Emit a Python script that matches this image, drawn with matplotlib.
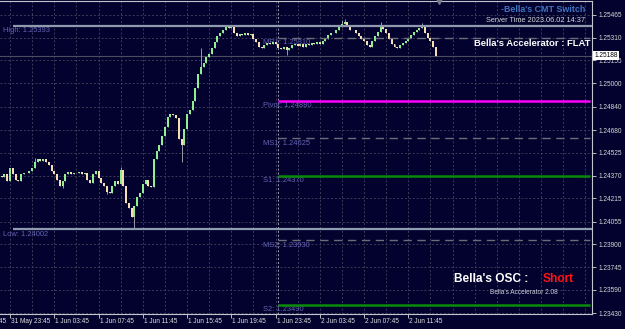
import numpy as np
import matplotlib
matplotlib.use("Agg")
import matplotlib.pyplot as plt
from matplotlib.transforms import blended_transform_factory, offset_copy

plt.rcParams["font.family"] = ["Liberation Sans", "DejaVu Sans"]

# -------- data (M15 bars, bar 0 = 31 May 23:45) --------
first_bar = -4
first_open = 1.24370
closes = [
    1.24370, 1.24360, 1.24380, 1.24330, 1.24420, 1.24380, 1.24340, 1.24330, 1.24380, 1.24390,
    1.24385, 1.24400, 1.24420, 1.24465, 1.24480, 1.24470, 1.24485, 1.24460, 1.24440, 1.24400,
    1.24380, 1.24340, 1.24300, 1.24330, 1.24380, 1.24395, 1.24380, 1.24390, 1.24385, 1.24395,
    1.24380, 1.24390, 1.24340, 1.24320, 1.24380, 1.24400, 1.24350, 1.24320, 1.24300, 1.24260,
    1.24250, 1.24300, 1.24330, 1.24310, 1.24410, 1.24300, 1.24180, 1.24150, 1.24090, 1.24160,
    1.24220, 1.24250, 1.24310, 1.24340, 1.24300, 1.24290, 1.24480, 1.24540, 1.24580, 1.24640,
    1.24700, 1.24770, 1.24790, 1.24780, 1.24760, 1.24620, 1.24580, 1.24690, 1.24790, 1.24820,
    1.24880, 1.24970, 1.25060, 1.25110, 1.25140, 1.25180, 1.25200, 1.25240, 1.25280, 1.25320,
    1.25340, 1.25365, 1.25385, 1.25375, 1.25380, 1.25340, 1.25320, 1.25335, 1.25330, 1.25340,
    1.25330, 1.25335, 1.25300, 1.25280, 1.25250, 1.25240, 1.25260, 1.25275, 1.25265, 1.25280,
    1.25265, 1.25240, 1.25230, 1.25245, 1.25225, 1.25240, 1.25260, 1.25270, 1.25255, 1.25265,
    1.25250, 1.25270, 1.25260, 1.25275, 1.25265, 1.25280, 1.25270, 1.25290, 1.25300, 1.25330,
    1.25345, 1.25340, 1.25365, 1.25385, 1.25405, 1.25415, 1.25390, 1.25360, 1.25360, 1.25340,
    1.25325, 1.25300, 1.25290, 1.25260, 1.25250, 1.25290, 1.25320, 1.25350, 1.25390, 1.25370,
    1.25340, 1.25300, 1.25270, 1.25250, 1.25240, 1.25260, 1.25275, 1.25290, 1.25310, 1.25330,
    1.25350, 1.25365, 1.25375, 1.25385, 1.25340, 1.25310, 1.25290, 1.25250, 1.25188,
]
wick_highs = {9: 1.24490, 40: 1.24425, 69: 1.25240, 120: 1.25430, 121: 1.25435,
              134: 1.25420, 149: 1.25410}
wick_lows = {19: 1.24284, 35: 1.24245, 45: 1.24002, 62: 1.24460, 100: 1.25195}

price_ticks = [1.25465, 1.25310, 1.25155, 1.25000, 1.24840, 1.24680, 1.24525,
               1.24370, 1.24215, 1.24055, 1.23900, 1.23745, 1.23590, 1.23430]
time_bars = [-16, 0, 16, 32, 48, 64, 80, 96, 112, 128, 144]
time_labels = ["31 May 19:45", "31 May 23:45", "1 Jun 03:45", "1 Jun 07:45",
               "1 Jun 11:45", "1 Jun 15:45", "1 Jun 19:45", "1 Jun 23:45",
               "2 Jun 03:45", "2 Jun 07:45", "2 Jun 11:45"]

day_high = 1.25393
day_low = 1.24002
level_names = ["MR1", "Pivot", "MS1", "S1", "MS2", "S2"]
level_values = [1.25310, 1.24880, 1.24625, 1.24370, 1.23930, 1.23490]
last_price = 1.25188
server_time = "2023.06.02 14:37"

# -------- style --------
W, H = 625, 329
BG = "#03022e"
BULL, BEAR, WICK = "#90ee90", "#f5deb3", "#9a9aa6"
GRID = "#3c3c58"
LABEL = "#6464b4"
level_style = {
    "MR1": ("#6c6c78", 1.0, (0, (6, 4))),
    "Pivot": ("#ff00ff", 1.8, "-"),
    "MS1": ("#6c6c78", 1.0, (0, (6, 4))),
    "S1": ("#0a8a0a", 1.8, "-"),
    "MS2": ("#6c6c78", 1.0, (0, (6, 4))),
    "S2": ("#0a8a0a", 1.8, "-"),
}
SESSION_START = 97  # 2 Jun 00:00
DAY_START = 1       # 1 Jun 00:00

fig = plt.figure(figsize=(W / 100, H / 100), dpi=100, facecolor=BG)
ax = fig.add_axes([0, 1 - 314 / H, 592 / W, 313 / H], facecolor=BG)
ax.set_xlim(-3.62, 210.4)
ax.set_ylim(1.234252, 1.255605)

# grid
for gx in np.arange(0, 211, 8):
    ax.axvline(gx, color=GRID, lw=0.7, ls=(0, (2, 2)), zorder=1)
for p in price_ticks:
    ax.axhline(p, color=GRID, lw=0.7, ls=(0, (2, 2)), zorder=1)
ax.axvline(SESSION_START, color="#9a9ab4", lw=0.7, ls=(0, (2, 2)), zorder=1)

# current price line
ax.axhline(last_price, color="#4c4c5c", lw=0.8, zorder=1.5)

# -------- candles --------
c = np.array(closes)
bars = np.arange(first_bar, first_bar + len(c))
o = np.concatenate([[first_open], c[:-1]])
hi = np.maximum(o, c)
lo = np.minimum(o, c)
for b, v in wick_highs.items():
    hi[bars == b] = v
for b, v in wick_lows.items():
    lo[bars == b] = v
up = c >= o
body_lo = np.minimum(o, c)
body_h = np.maximum(np.abs(c - o), 0.00004)
ax.vlines(bars, lo, hi, color=WICK, lw=0.7, zorder=3)
ax.bar(bars[up], body_h[up], bottom=body_lo[up], width=0.72, color=BULL, lw=0, zorder=3.2)
ax.bar(bars[~up], body_h[~up], bottom=body_lo[~up], width=0.72, color=BEAR, lw=0, zorder=3.2)

# -------- levels --------
below = offset_copy(ax.transData, fig=fig, y=-5, units="dots")
for val, name in [(day_high, "High"), (day_low, "Low")]:
    ax.hlines(val, DAY_START, 210.4, color="#8e9aae", lw=1.6, zorder=4)
    ax.text(-2.5, val, f"{name}: {val:.5f}", transform=below, color=LABEL,
            fontsize=5.4, va="center", ha="left", zorder=2)
for name, val in zip(level_names, level_values):
    col, lw, ls = level_style[name]
    ax.hlines(val, SESSION_START, 209.5, color=col, lw=lw, ls=ls, zorder=4)
    ax.text(91.5, val, f"{name}: {val:.5f}", transform=below, color=LABEL,
            fontsize=5.4, va="center", ha="left", zorder=2)

# -------- axes --------
ax.spines["left"].set_visible(False)
for s in ["right", "bottom", "top"]:
    ax.spines[s].set_color("#c4c4cc")
    ax.spines[s].set_linewidth(0.8)
ax.yaxis.tick_right()
ax.set_yticks(price_ticks)
ax.set_yticklabels([f"{p:.5f}" for p in price_ticks])
ax.tick_params(axis="y", colors="#d8d8d8", labelsize=4.7, length=3, width=0.6, pad=1.5)
ax.set_xticks(time_bars[1:])
ax.set_xticklabels([])
ax.tick_params(axis="x", colors="#d8d8d8", length=3, width=0.6)
xlab = blended_transform_factory(ax.transData, ax.transAxes)
for b, lab in zip(time_bars, time_labels):
    ax.text(b + 0.4, -0.012, lab, transform=xlab, color="#e0e0e0", fontsize=4.7,
            ha="left", va="top", clip_on=False)

# current price box
pb = blended_transform_factory(ax.transAxes, ax.transData)
ax.text(1.004, last_price, f"{last_price:.5f}", transform=pb, fontsize=4.7, color="black",
        ha="left", va="center", clip_on=False, zorder=6,
        bbox=dict(boxstyle="square,pad=0.2", fc="white", ec="none"))

# shift marker
ax.plot([155.2], [1.00], marker="v", ms=4, color="#7a7a86", transform=xlab,
        clip_on=False, zorder=6)

# -------- indicator texts --------
def fx(x):
    return x / W

def fy(y):
    return 1 - y / H

fig.text(fx(585), fy(10), "-Bella's CMT Switch", color="#3f74c2", fontsize=6.4,
         fontweight="bold", ha="right", va="center")
fig.text(fx(585), fy(21), f"Server Time {server_time}", color="#d8d8d8", fontsize=5.3,
         ha="right", va="center")
fig.text(fx(590), fy(44), "Bella's Accelerator : FLAT", color="white", fontsize=6.8,
         fontweight="bold", ha="right", va="center")
fig.text(fx(528), fy(279), "Bella's OSC :", color="white", fontsize=8.6,
         fontweight="bold", ha="right", va="center")
fig.text(fx(542.5), fy(279), "Short", color="#ff1414", fontsize=8.6,
         fontweight="bold", ha="left", va="center")
fig.text(fx(524), fy(292), "Bella's Accelerator 2.08", color="#d0d0dc", fontsize=4.7,
         ha="center", va="center")

fig.savefig("out.png", dpi=100, facecolor=BG)
